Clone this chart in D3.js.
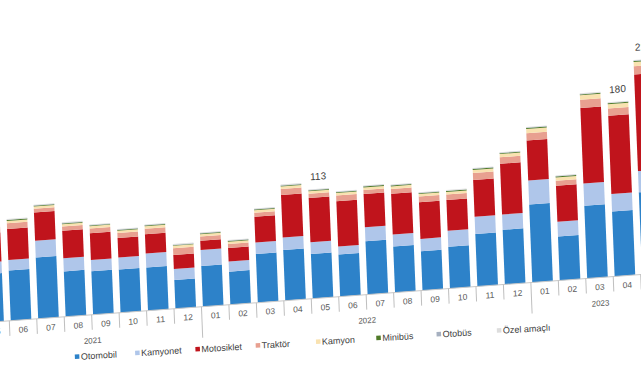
<!DOCTYPE html>
<html><head><meta charset="utf-8">
<script src="https://cdn.jsdelivr.net/npm/d3@7"></script>
<style>html,body{margin:0;padding:0;background:#fff;overflow:hidden}</style>
</head><body>
<svg id="chart" width="641" height="380"></svg>
<script>
// ---- data (thousand vehicles) ----
const periods = ["2021-05","2021-06","2021-07","2021-08","2021-09","2021-10","2021-11","2021-12",
  "2022-01","2022-02","2022-03","2022-04","2022-05","2022-06","2022-07","2022-08","2022-09","2022-10","2022-11","2022-12",
  "2023-01","2023-02","2023-03","2023-04","2023-05"];
const monthLabels = ["05","06","07","08","09","10","11","12","01","02","03","04","05","06","07","08","09","10","11","12","01","02","03","04","05"];
const yearLabels = ["2021","2022","2023"];
const periodYears = ["2021","2021","2021","2021","2021","2021","2021","2021",
  "2022","2022","2022","2022","2022","2022","2022","2022","2022","2022","2022","2022",
  "2023","2023","2023","2023","2023"];
const seriesNames = ["Otomobil","Kamyonet","Motosiklet","Traktör","Kamyon","Minibüs","Otobüs","Özel amaçlı"];
const otomobil   = [50,52,63.5,47,45,44.8,44.8,29.7, 42.2,34.2,50.3,52.5,46.3,43.5,55.2,47.7,40.7,43.2,54.4,56.6, 80.7,45.4,75.3,67.3,85];
const kamyonet   = [12,11,17.3,13.5,11.7,12.4,14.5,11.4, 16.6,10.4,12,13,12,8.3,14.5,12.4,12.8,16.6,17.9,15.9, 24.9,15.5,23.1,18,22];
const motosiklet = [30,32,29.3,28.7,27.7,20.3,20,14.5, 9.6,14.2,26.6,44,46,47,34.6,42.2,38,31.8,38,52.5, 41.5,37.3,78.1,81.1,100];
const traktor    = [5.6,6.0,3.8,4.3,5.0,5.0,5.6,7.0, 4.3,4.0,4.2,6.2,4.3,5.8,4.1,5.0,5.8,5.7,7.4,6.8, 7.6,5.2,8.6,7.6,8.7];
const kamyon     = [2.5,2.5,2.3,2.4,2.4,2.4,2.5,2.5, 2.4,2.4,2.5,2.6,2.5,2.7,2.6,2.7,2.7,2.8,3.1,3.3, 4.3,3.3,4.6,4.3,4.4];
const minibus    = [0.8,0.8,0.9,0.8,0.7,0.8,0.8,0.7, 0.7,0.7,0.8,0.8,0.8,0.8,0.9,0.9,0.8,0.8,0.9,0.9, 1.0,0.9,1.0,1.0,1.0];
const otobus     = [0.5,0.5,0.5,0.5,0.5,0.5,0.5,0.5, 0.5,0.5,0.5,0.5,0.5,0.5,0.5,0.5,0.5,0.5,0.5,0.5, 0.5,0.5,0.5,0.5,0.5];
const ozelAmacli = [0.6,0.6,0.6,0.6,0.6,0.6,0.6,0.6, 0.6,0.6,0.6,0.6,0.6,0.6,0.6,0.6,0.6,0.6,0.6,0.6, 0.6,0.6,0.6,0.6,0.6];
const labeledPeriods = ["2022-05","2023-04","2023-05"];
const colors = ["#2D82C9","#AFC6EA","#C0141C","#E8A090","#F9E2B0","#4F7A28","#A6B0C0","#DDDDDD"];

// ---- build rows ----
const seriesArrays = [otomobil,kamyonet,motosiklet,traktor,kamyon,minibus,otobus,ozelAmacli];
const rows = periods.map((p,i)=>{
  const r = {period:p};
  seriesNames.forEach((s,k)=> r[s]=seriesArrays[k][i]);
  return r;
});

const svg = d3.select("#chart");
svg.append("rect").attr("width",641).attr("height",380).attr("fill","#fff");
const g = svg.append("g").attr("transform","matrix(1,-0.0735,0.04,1,-12,0)");

const x = d3.scaleBand().domain(periods).range([-21,665.25]).paddingInner(0.25).paddingOuter(0.125);
const y = d3.scaleLinear().domain([0,250]).range([321.5, 321.5-250*0.965]);
const color = d3.scaleOrdinal().domain(seriesNames).range(colors);

const stacked = d3.stack().keys(seriesNames)(rows);
g.selectAll("g.series").data(stacked).join("g")
  .attr("class","series").attr("fill",d=>color(d.key))
  .selectAll("rect").data(d=>d).join("rect")
  .attr("x",d=>x(d.data.period))
  .attr("width",x.bandwidth())
  .attr("y",d=>y(d[1]))
  .attr("height",d=>y(d[0])-y(d[1]));

// value labels
g.selectAll("text.val").data(rows.filter(r=>labeledPeriods.includes(r.period))).join("text")
  .attr("class","val")
  .attr("x",d=>x(d.period)+x.bandwidth()/2)
  .attr("y",d=>y(d3.sum(seriesNames,s=>d[s]))-9)
  .attr("text-anchor","middle")
  .attr("font-family","Liberation Sans, Arial, sans-serif")
  .attr("font-size",10).attr("fill","#404040")
  .text(d=>Math.round(d3.sum(seriesNames,s=>d[s])));

// category axis
const axisG = g.append("g").attr("transform","translate(2,0)");
axisG.append("line").attr("x1",-25).attr("x2",670).attr("y1",y(0)).attr("y2",y(0))
  .attr("stroke","#C8C8C8").attr("stroke-width",1);
const half = x.step()*x.paddingInner()/2;
const bounds = periods.map((p,i)=>({pos:x(p)-half, yearStart: i===0 || periodYears[i]!==periodYears[i-1]}));
bounds.push({pos:x(periods[periods.length-1])+x.bandwidth()+half, yearStart:true});
axisG.selectAll("line.sep").data(bounds).join("line").attr("class","sep")
  .attr("x1",d=>d.pos).attr("x2",d=>d.pos)
  .attr("y1",y(0)).attr("y2",d=>d.yearStart? y(0)+31 : y(0)+15)
  .attr("stroke","#BFBFBF").attr("stroke-width",1);
axisG.selectAll("text.month").data(periods).join("text").attr("class","month")
  .attr("x",(d)=>x(d)+x.bandwidth()/2)
  .attr("y",y(0)+12.5)
  .attr("text-anchor","middle")
  .attr("font-family","Liberation Sans, Arial, sans-serif")
  .attr("font-size",8.5).attr("fill","#595959")
  .text((d,i)=>monthLabels[i]);
axisG.selectAll("text.year").data(yearLabels).join("text").attr("class","year")
  .attr("x",yr=>d3.mean(periods.filter((p,i)=>periodYears[i]===yr),p=>x(p)+x.bandwidth()/2))
  .attr("y",y(0)+28.5)
  .attr("text-anchor","middle")
  .attr("font-family","Liberation Sans, Arial, sans-serif")
  .attr("font-size",8).attr("fill","#595959")
  .text(d=>d);

// legend
const lg = svg.append("g").attr("transform","matrix(1,-0.062,0.04,1,-12,0)");
const lx = d3.scalePoint().domain(seriesNames).range([72.4,494.4]);
const items = lg.selectAll("g.li").data(seriesNames).join("g").attr("class","li")
  .attr("transform",d=>`translate(${lx(d)},362)`);
items.append("rect").attr("x",0).attr("y",-3).attr("width",4.5).attr("height",4.5).attr("fill",d=>color(d));
items.append("text").attr("x",6).attr("y",2.5)
  .attr("font-family","Liberation Sans, Arial, sans-serif")
  .attr("font-size",9).attr("fill","#404040").text(d=>d);
</script>
</body></html>
